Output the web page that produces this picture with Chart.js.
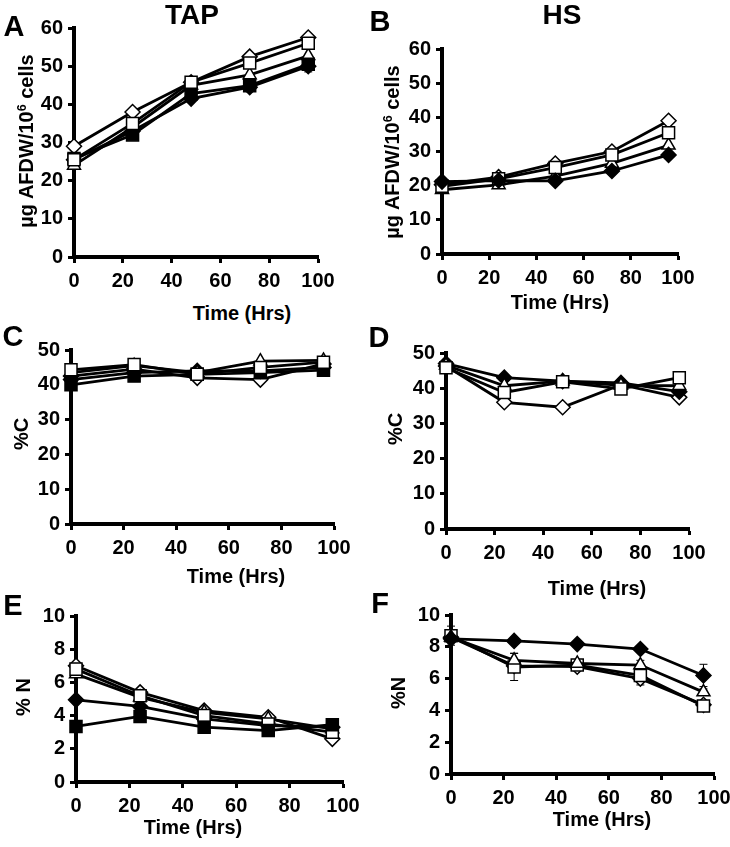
<!DOCTYPE html>
<html>
<head>
<meta charset="utf-8">
<script src="https://cdn.jsdelivr.net/npm/chart.js@4.4.0/dist/chart.umd.min.js"></script>
<style>
  html, body { margin: 0; padding: 0; background: #fff; }
  body { width: 730px; height: 847px; position: relative; overflow: hidden;
         font-family: "Liberation Sans", Arial, sans-serif; font-weight: bold; color: #000; }
  canvas { position: absolute; }
  .txt { position: absolute; white-space: nowrap; transform: translate(-50%, -50%); line-height: 1; }
  .rot { transform: translate(-50%, -50%) rotate(-90deg); }
  sup { font-size: 0.62em; vertical-align: 0.55em; line-height: 0; }
</style>
</head>
<body>
<script>
"use strict";

// sampling times (hours), shared by every panel
const TIMES = [0, 24, 48, 72, 96];

// A: TAP, ug AFDW / 10^6 cells
const tapAfdwOpenSquare    = [25.5, 35.0, 45.8, 50.8, 56.0];
const tapAfdwFilledSquare  = [25.8, 32.0, 42.8, 44.9, 50.5];
const tapAfdwOpenTriangle  = [24.0, 34.0, 45.0, 47.7, 52.7];
const tapAfdwOpenDiamond   = [29.0, 38.0, 45.8, 52.5, 57.5];
const tapAfdwFilledDiamond = [25.5, 33.0, 41.5, 44.5, 50.0];
const tapAfdwFilledSquareErr = [0.6, 0.6, 0.6, 0.8, 2.0];

// B: HS, ug AFDW / 10^6 cells
const hsAfdwOpenDiamond   = [20.3, 22.5, 26.5, 30.0, 39.0];
const hsAfdwOpenSquare    = [19.8, 22.0, 25.3, 29.0, 35.5];
const hsAfdwOpenTriangle  = [18.8, 20.2, 22.8, 26.5, 31.8];
const hsAfdwFilledDiamond = [21.2, 21.5, 21.4, 24.3, 29.0];

// C: TAP, %C
const tapCOpenSquare    = [44.3, 45.8, 43.0, 45.0, 46.5];
const tapCOpenTriangle  = [43.5, 45.5, 43.5, 46.8, 47.0];
const tapCOpenDiamond   = [42.5, 44.5, 42.0, 41.5, 46.0];
const tapCFilledDiamond = [41.5, 43.5, 44.0, 44.0, 45.0];
const tapCFilledSquare  = [40.0, 42.5, 43.0, 43.5, 44.2];

// D: HS, %C
const hsCOpenSquare    = [45.8, 38.8, 41.8, 39.8, 43.0];
const hsCOpenTriangle  = [46.5, 40.7, 42.0, 40.8, 40.7];
const hsCFilledDiamond = [47.0, 43.0, 42.0, 41.5, 39.0];
const hsCOpenDiamond   = [46.3, 36.0, 34.6, 41.0, 37.4];

// E: TAP, %N
const tapNOpenSquare    = [6.8, 5.2, 4.0, 3.5, 3.0];
const tapNFilledSquare  = [3.35, 3.95, 3.3, 3.1, 3.45];
const tapNOpenTriangle  = [6.5, 5.1, 4.2, 3.8, 3.2];
const tapNOpenDiamond   = [7.0, 5.4, 4.3, 3.9, 2.6];
const tapNFilledDiamond = [4.95, 4.55, 3.8, 3.4, 3.3];

// F: HS, %N
const hsNOpenSquare    = [8.7, 6.73, 6.85, 6.2, 4.27];
const hsNOpenTriangle  = [8.6, 7.15, 6.95, 6.85, 5.15];
const hsNOpenDiamond   = [8.6, 6.8, 6.75, 6.0, 4.35];
const hsNFilledDiamond = [8.5, 8.37, 8.17, 7.86, 6.2];
const hsNOpenSquareErr    = [0.6, 0.85, 0.15, 0.6, 0.2];
const hsNOpenTriangleErr  = [0.3, 0.45, 0.1, 0.3, 0.2];
const hsNFilledDiamondErr = [0.2, 0.1, 0.1, 0.1, 0.7];

const MARKERS = {
  openSquare:    {style: "rect",     radius: 8.5, fill: "#fff"},
  filledSquare:  {style: "rect",     radius: 8.5, fill: "#000"},
  openTriangle:  {style: "triangle", radius: 7.5, fill: "#fff"},
  openDiamond:   {style: "rectRot",  radius: 7.5, fill: "#fff"},
  filledDiamond: {style: "rectRot",  radius: 7.5, fill: "#000"}
};

// space around each plot area, inside its canvas
const PAD_L = 72, PAD_T = 14, PAD_R = 24, PAD_B = 45;

Chart.defaults.font.family = "'Liberation Sans', Arial, sans-serif";
Chart.defaults.font.weight = "bold";
Chart.defaults.color = "#000";

// vertical error bars, drawn under the lines and markers
const errorBars = {
  id: "errorBars",
  beforeDatasetsDraw(chart) {
    const ctx = chart.ctx;
    const xs = chart.scales.x;
    const ys = chart.scales.y;
    ctx.save();
    ctx.strokeStyle = "#000";
    ctx.lineWidth = 1;
    for (const ds of chart.data.datasets) {
      if (!ds.errors) {
        continue;
      }
      ds.data.forEach(function(p, j) {
        const e = ds.errors[j];
        if (!e) {
          return;
        }
        const x = xs.getPixelForValue(p.x);
        const hi = ys.getPixelForValue(p.y + e);
        const lo = ys.getPixelForValue(p.y - e);
        ctx.beginPath();
        ctx.moveTo(x, hi); ctx.lineTo(x, lo);
        ctx.moveTo(x - 4, hi); ctx.lineTo(x + 4, hi);
        ctx.moveTo(x - 4, lo); ctx.lineTo(x + 4, lo);
        ctx.stroke();
      });
    }
    ctx.restore();
  }
};

function series(kind, values, errors) {
  const m = MARKERS[kind];
  return {
    label: kind,
    data: values.map(function(v, i) { return {x: TIMES[i], y: v}; }),
    errors: errors,
    borderColor: "#000",
    borderWidth: 2.8,
    pointStyle: m.style,
    pointRadius: m.radius,
    pointBackgroundColor: m.fill,
    pointBorderColor: "#000",
    pointBorderWidth: 1.5,
    tension: 0,
    clip: false
  };
}

function makeChart(box, yMax, yStep, datasets) {
  const canvas = document.createElement("canvas");
  const w = box.R - box.L + PAD_L + PAD_R;
  const h = box.B - box.T + PAD_T + PAD_B;
  canvas.width = w;
  canvas.height = h;
  canvas.style.left = (box.L - PAD_L) + "px";
  canvas.style.top = (box.T - PAD_T) + "px";
  canvas.style.width = w + "px";
  canvas.style.height = h + "px";
  document.body.append(canvas);

  new Chart(canvas.getContext("2d"), {
    type: "line",
    data: {datasets: datasets},
    options: {
      responsive: false,
      animation: false,
      devicePixelRatio: 1,
      layout: {padding: {top: PAD_T, right: PAD_R, left: 0, bottom: 0}},
      plugins: {legend: {display: false}, tooltip: {enabled: false}},
      scales: {
        x: {
          type: "linear", min: 0, max: 100,
          ticks: {stepSize: 20, font: {size: 20, weight: "bold"}, padding: 6, maxRotation: 0},
          grid: {drawOnChartArea: false, drawTicks: true, tickLength: 6, tickWidth: 3, tickColor: "#000"},
          border: {color: "#000", width: 4},
          afterFit: function(scale) { scale.height = PAD_B; }
        },
        y: {
          min: 0, max: yMax,
          ticks: {stepSize: yStep, font: {size: 20, weight: "bold"}, padding: 5},
          grid: {drawOnChartArea: false, drawTicks: true, tickLength: 6, tickWidth: 3, tickColor: "#000"},
          border: {color: "#000", width: 4},
          afterFit: function(scale) { scale.width = PAD_L; }
        }
      }
    },
    plugins: [errorBars]
  });
}

function addText(html, x, y, size, rotate) {
  const d = document.createElement("div");
  d.className = rotate ? "txt rot" : "txt";
  d.style.left = x + "px";
  d.style.top = y + "px";
  d.style.fontSize = size + "px";
  d.innerHTML = html;
  document.body.append(d);
}

window.addEventListener("load", function() {
  makeChart({L: 74, R: 318, T: 25, B: 257}, 60, 10, [
    series("openSquare", tapAfdwOpenSquare),
    series("filledSquare", tapAfdwFilledSquare, tapAfdwFilledSquareErr),
    series("openTriangle", tapAfdwOpenTriangle),
    series("openDiamond", tapAfdwOpenDiamond),
    series("filledDiamond", tapAfdwFilledDiamond)
  ]);
  makeChart({L: 441.5, R: 677.5, T: 46, B: 254}, 60, 10, [
    series("filledDiamond", hsAfdwFilledDiamond),
    series("openSquare", hsAfdwOpenSquare),
    series("openDiamond", hsAfdwOpenDiamond),
    series("openTriangle", hsAfdwOpenTriangle)
  ]);
  makeChart({L: 71, R: 334, T: 347, B: 524}, 50, 10, [
    series("openSquare", tapCOpenSquare),
    series("openTriangle", tapCOpenTriangle),
    series("filledSquare", tapCFilledSquare),
    series("filledDiamond", tapCFilledDiamond),
    series("openDiamond", tapCOpenDiamond)
  ]);
  makeChart({L: 445.5, R: 689, T: 350, B: 529}, 50, 10, [
    series("openSquare", hsCOpenSquare),
    series("openTriangle", hsCOpenTriangle),
    series("filledDiamond", hsCFilledDiamond),
    series("openDiamond", hsCOpenDiamond)
  ]);
  makeChart({L: 75.5, R: 342.5, T: 613, B: 782}, 10, 2, [
    series("filledSquare", tapNFilledSquare),
    series("openSquare", tapNOpenSquare),
    series("openTriangle", tapNOpenTriangle),
    series("openDiamond", tapNOpenDiamond),
    series("filledDiamond", tapNFilledDiamond)
  ]);
  makeChart({L: 451, R: 714, T: 612, B: 774}, 10, 2, [
    series("filledDiamond", hsNFilledDiamond, hsNFilledDiamondErr),
    series("openTriangle", hsNOpenTriangle, hsNOpenTriangleErr),
    series("openSquare", hsNOpenSquare, hsNOpenSquareErr),
    series("openDiamond", hsNOpenDiamond)
  ]);

  // panel letters and headings
  addText("A", 14, 26, 29);
  addText("B", 380, 21, 29);
  addText("C", 13, 336, 29);
  addText("D", 379, 337, 29);
  addText("E", 13, 605, 29);
  addText("F", 380, 603, 29);
  addText("TAP", 192, 15, 28);
  addText("HS", 562, 15, 28);

  // axis titles
  addText("µg AFDW/10<sup>6</sup> cells", 26, 141, 20, true);
  addText("µg AFDW/10<sup>6</sup> cells", 392, 152, 20, true);
  addText("%C", 21, 434, 20, true);
  addText("%C", 395, 429, 20, true);
  addText("% N", 23, 697, 20, true);
  addText("%N", 398, 693, 20, true);
  addText("Time (Hrs)", 242, 313, 20);
  addText("Time (Hrs)", 560, 302, 20);
  addText("Time (Hrs)", 236, 576, 20);
  addText("Time (Hrs)", 597, 588, 20);
  addText("Time (Hrs)", 193, 827, 20);
  addText("Time (Hrs)", 602, 819, 20);
});
</script>
</body>
</html>
